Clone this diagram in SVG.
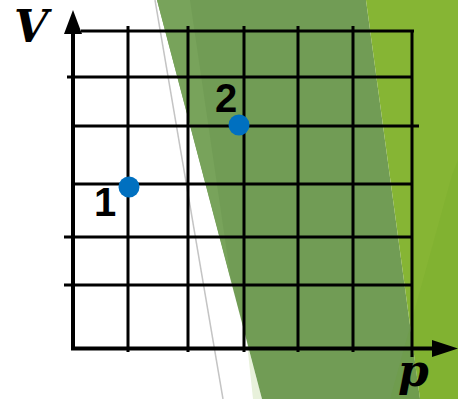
<svg xmlns="http://www.w3.org/2000/svg" width="458" height="399" viewBox="0 0 458 399">
  <style>
    .grid { stroke: #000; stroke-width: 3; fill: none; }
    .axis { stroke: #000; stroke-width: 4; fill: none; }
    .dot { fill: #0070c0; }
    .num { font-family: "Liberation Sans", Arial, sans-serif; font-weight: bold; font-size: 40px; fill: #000; }
    .var { font-family: "DejaVu Serif", "Liberation Serif", serif; font-weight: bold; font-style: italic; font-size: 44px; fill: #000; }
  </style>
  <g id="background">
    <rect x="0" y="0" width="458" height="399" fill="#ffffff"/>
    <line x1="155" y1="0" x2="223" y2="399" stroke="#c4c4c4" stroke-width="1.5"/>
    <polygon points="247,343 253,399 262,399" fill="#e8f1db"/>
    <polygon points="157,0 366,0 420,399 262,399" fill="#719c55"/>
    <polygon points="157,0 190,0 231,280" fill="#78a35b"/>
    <polygon points="366,0 458,0 458,399 420,399" fill="#86b534"/>
    <polygon points="452,175 458,160 458,399 390,399" fill="#5f9a1e" fill-opacity="0.12"/>
  </g>
  <g id="connectors">
    <g id="grid">
      <line class="grid" x1="81" y1="31" x2="414" y2="31"/>
      <line class="grid" x1="67" y1="77" x2="412" y2="77"/>
      <line class="grid" x1="73" y1="126" x2="419" y2="126"/>
      <line class="grid" x1="73" y1="184" x2="412" y2="184"/>
      <line class="grid" x1="64" y1="237" x2="412" y2="237"/>
      <line class="grid" x1="64" y1="285" x2="412" y2="285"/>
      <line class="grid" x1="128" y1="26" x2="128" y2="352"/>
      <line class="grid" x1="188" y1="26" x2="188" y2="352"/>
      <line class="grid" x1="244" y1="26" x2="244" y2="352"/>
      <line class="grid" x1="298" y1="26" x2="298" y2="352"/>
      <line class="grid" x1="353" y1="26" x2="353" y2="352"/>
      <line class="grid" x1="412" y1="30" x2="412" y2="357"/>
    </g>
    <g id="axes">
      <line class="axis" x1="73" y1="28" x2="73" y2="350"/>
      <polygon points="73,10 82,34 64,34" fill="#000"/>
      <line class="axis" x1="71" y1="348.5" x2="436" y2="348.5"/>
      <polygon points="458,348.5 432,340 432,357" fill="#000"/>
    </g>
  </g>
  <g id="label-V"><text class="var" x="14" y="42">V</text></g>
  <g id="label-p"><text class="var" x="398" y="386">p</text></g>
  <g id="point-1">
    <circle class="dot" cx="129" cy="187" r="10.5"/>
    <text class="num" x="94" y="216">1</text>
  </g>
  <g id="point-2">
    <circle class="dot" cx="239" cy="125" r="10.5"/>
    <text class="num" x="215" y="112">2</text>
  </g>
</svg>
